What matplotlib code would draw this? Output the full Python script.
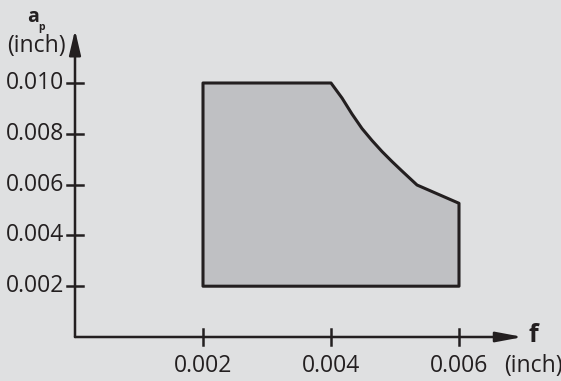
import numpy as np
import matplotlib.pyplot as plt

# boundary of the shaded region (f, ap) in inch
f_pts = [0.002, 0.002, 0.004, 0.004172, 0.004328, 0.004484, 0.004641,
         0.004797, 0.004953, 0.005109, 0.005344, 0.006, 0.006]
ap_pts = [0.002, 0.010, 0.010, 0.009409, 0.008780, 0.008209, 0.007736,
          0.007303, 0.006909, 0.006535, 0.005984, 0.005264, 0.002]

x_ticks = [0.002, 0.004, 0.006]
x_labels = ['0.002', '0.004', '0.006']
y_ticks = [0.002, 0.004, 0.006, 0.008, 0.010]
y_labels = ['0.002', '0.004', '0.006', '0.008', '0.010']

bg = '#dfe0e1'
fill = '#bfc0c3'
ink = '#231f20'

plt.rcParams['font.family'] = 'Open Sans'

fig = plt.figure(figsize=(5.61, 3.81), dpi=100, facecolor=bg)
ax = fig.add_axes([0, 0, 1, 1])
ax.set_facecolor(bg)
ax.set_xlim(-75 / 64000, 486 / 64000)
ax.set_ylim(-44 / 25400, 337 / 25400)
ax.axis('off')

ax.fill(f_pts, ap_pts, facecolor=fill, edgecolor=ink, lw=2.2, joinstyle='round')

# axes with arrows
ax.annotate('', xy=(0.00700, 0), xytext=(0, 0),
            arrowprops=dict(arrowstyle='-|>,head_length=1.6,head_width=0.3',
                            color=ink, lw=1.8, shrinkA=0, shrinkB=0))
ax.annotate('', xy=(0, 0.01209), xytext=(0, 0),
            arrowprops=dict(arrowstyle='-|>,head_length=1.5,head_width=0.35',
                            color=ink, lw=1.8, shrinkA=0, shrinkB=0))

dx = 8 / 64000
dy = 8 / 25400
fs = 16.5
for t, lab in zip(x_ticks, x_labels):
    ax.plot([t, t], [-dy, dy], color=ink, lw=1.8)
    ax.text(t, -29 / 25400, lab, ha='center', va='center', fontsize=fs, color=ink)
for t, lab in zip(y_ticks, y_labels):
    ax.plot([-dx, dx], [t, t], color=ink, lw=1.8)
    ax.text(-11 / 64000, t, lab, ha='right', va='center', fontsize=fs, color=ink)

ax.text(458 / 64000, 1 / 25400, 'f', ha='center', va='center', fontsize=18,
        fontweight='bold', color=ink)
ax.text(458 / 64000, -29 / 25400, '(inch)', ha='center', va='center',
        fontsize=fs, color=ink)
ax.text(-39 / 64000, 291 / 25400, '(inch)', ha='center', va='center',
        fontsize=fs, color=ink)
ax.text(-42 / 64000, 320 / 25400, 'a', ha='center', va='center',
        fontsize=14, fontweight='bold', color=ink)
ax.text(-33 / 64000, 310 / 25400, 'p', ha='center', va='center',
        fontsize=7.5, fontweight='bold', color=ink)

fig.savefig('out.png', dpi=100, facecolor=bg)
